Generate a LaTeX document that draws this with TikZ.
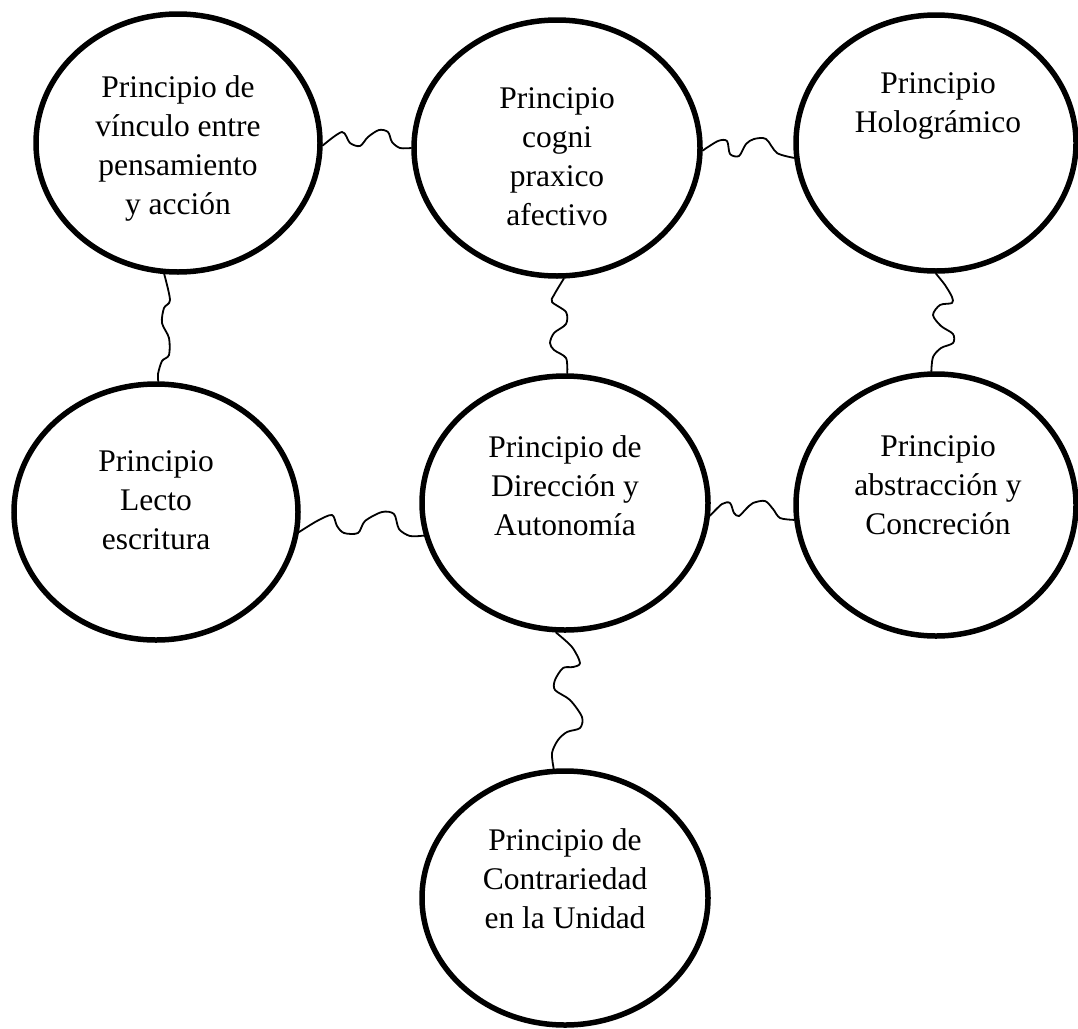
\documentclass[tikz,border=0pt]{standalone}
\usepackage{fontspec}
\setmainfont{Liberation Serif}
\usetikzlibrary{shapes.geometric}
\tikzset{
  principle/.style={ellipse, draw, line width=5.5pt, inner sep=0pt, fill=none},
  lbl/.style={align=center, inner sep=0pt, font=\fontsize{31.5}{39}\selectfont},
  wire/.style={line width=1.8pt, line join=round, line cap=round}
}
\begin{document}
\begin{tikzpicture}[x=1pt,y=-1pt]
\useasboundingbox (0,0) rectangle (1078,1028);

% ellipses
\node[principle, minimum width=284pt, minimum height=258pt] (e1) at (178,143) {};
\node[principle, minimum width=286pt, minimum height=256pt] (e2) at (557,148) {};
\node[principle, minimum width=280pt, minimum height=256pt] (e3) at (936,143) {};
\node[principle, minimum width=284pt, minimum height=256pt] (e4) at (156,512) {};
\node[principle, minimum width=286pt, minimum height=254pt] (e5) at (565,503) {};
\node[principle, minimum width=280pt, minimum height=262pt] (e6) at (936,505) {};
\node[principle, minimum width=286pt, minimum height=254pt] (e7) at (565,898) {};

% texts
\node[lbl] (t1) at (178,148) {Principio de\\vínculo entre\\pensamiento\\y acción};
\node[lbl] (t2) at (557,157) {Principio\\cogni\\praxico\\afectivo};
\node[lbl] (t3) at (938,106) {Principio\\Holográmico};
\node[lbl] (t4) at (156,500) {Principio\\Lecto\\escritura};
\node[lbl] (t5) at (565,486) {Principio de\\Dirección y\\Autonomía};
\node[lbl] (t6) at (938,485) {Principio\\abstracción y\\Concreción};
\node[lbl] (t7) at (565,879) {Principio de\\Contrariedad\\en la Unidad};

% wavy connectors
\draw[wire] plot[smooth] coordinates {(e1.-1) (342,132) (350,143) (360,146) (368,137) (379,130) (388,132) (392,142) (400,148) (e2.180)};
\draw[wire] plot[smooth] coordinates {(e2.-1) (718,141) (727,141) (730,154) (739,156) (746,144) (754,139) (766,139) (777,153) (e3.186)};
\draw[wire] plot[smooth] coordinates {(e1.264) (170,300) (164,308) (162,323) (169,338) (169,355) (162,361) (158,374) (e4.89)};
\draw[wire] plot[smooth] coordinates {(e2.273) (554,295) (552,302) (566,312) (566,324) (554,333) (550,343) (554,350) (566,358) (e5.89)};
\draw[wire] plot[smooth] coordinates {(e3.270) (945,285) (952,297) (952,303) (940,305) (933,315) (941,326) (953,334) (953,343) (941,348) (933,357) (e6.92)};
\draw[wire] plot[smooth] coordinates {(e4.-8) (317,521) (332,515) (337,526) (344,533) (358,533) (365,521) (382,512) (394,514) (399,529) (410,536) (e5.193)};
\draw[wire] plot[smooth] coordinates {(e5.-5) (722,504) (730,503) (734,513) (739,516) (746,509) (753,503) (765,501) (773,509) (780,518) (e6.186)};
\draw[wire] plot[smooth] coordinates {(e5.266) (572,647) (580,663) (573,667) (563,668) (555,680) (555,690) (570,700) (582,717) (580,728) (567,732) (558,740) (552,753) (e7.95)};
\end{tikzpicture}
\end{document}
